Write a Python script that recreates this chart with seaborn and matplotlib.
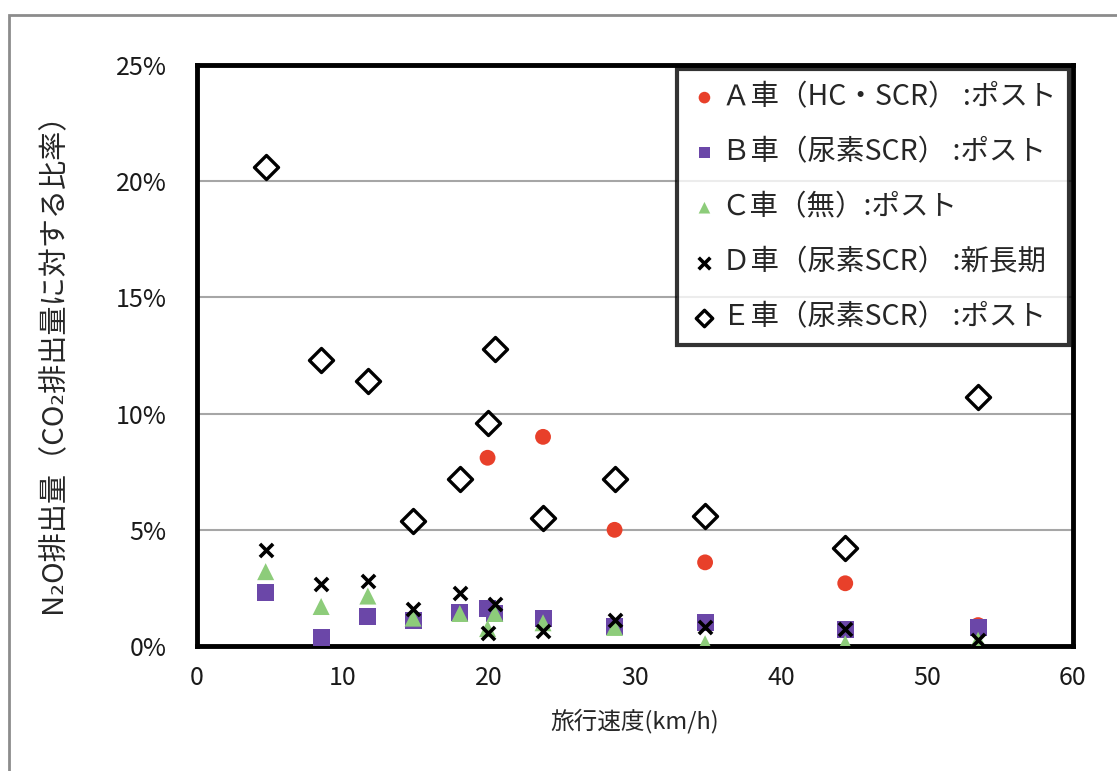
import numpy as np
import pandas as pd
import matplotlib.pyplot as plt
import matplotlib.patches as mpatches
import seaborn as sns

sns.set_style('white')
plt.rcParams['font.family'] = ['Noto Sans CJK JP', 'DejaVu Sans']

# 旅行速度 (km/h) と N2O/CO2 比率 (%)
speed_a = [19.9, 23.7, 28.6, 34.8, 44.4, 53.5]
ratio_a = [8.1, 9.0, 5.0, 3.6, 2.7, 0.9]

speed_b = [4.7, 8.5, 11.7, 14.8, 18.0, 19.9, 20.4, 23.7, 28.6, 34.8, 44.4, 53.5]
ratio_b = [2.3, 0.35, 1.25, 1.1, 1.45, 1.6, 1.4, 1.2, 0.85, 1.0, 0.7, 0.8]

speed_c = [4.7, 8.5, 11.7, 14.8, 18.0, 19.9, 20.4, 23.7, 28.6, 34.8, 44.4, 53.5]
ratio_c = [3.2, 1.7, 2.15, 1.2, 1.4, 0.75, 1.4, 1.0, 0.8, 0.1, 0.1, 0.25]

speed_d = [4.7, 8.5, 11.7, 14.8, 18.0, 19.9, 20.4, 23.7, 28.6, 34.8, 44.4, 53.5]
ratio_d = [4.15, 2.65, 2.8, 1.6, 2.3, 0.55, 1.8, 0.65, 1.1, 0.8, 0.75, 0.25]

speed_e = [4.7, 8.5, 11.7, 14.8, 18.0, 19.9, 20.4, 23.7, 28.6, 34.8, 44.4, 53.5]
ratio_e = [20.6, 12.3, 11.4, 5.4, 7.2, 9.6, 12.8, 5.5, 7.2, 5.6, 4.2, 10.7]

labels = ['Ａ車（HC・SCR） :ポスト',
          'Ｂ車（尿素SCR） :ポスト',
          'Ｃ車（無）:ポスト',
          'Ｄ車（尿素SCR） :新長期',
          'Ｅ車（尿素SCR） :ポスト']

fig = plt.figure(figsize=(11.17, 7.71), dpi=100)
ax = fig.add_axes([0.1764, 0.1621, 0.7842, 0.7536])

# 外枠
fig.patches.append(mpatches.Rectangle((0.008, -0.1), 1.1, 1.08, transform=fig.transFigure,
                                      fill=False, edgecolor='#8c8c8c', linewidth=2))

sns.scatterplot(x=speed_a, y=ratio_a, ax=ax, marker='o', s=130, color='#e8402a',
                edgecolor='none', label=labels[0], zorder=3)
sns.scatterplot(x=speed_b, y=ratio_b, ax=ax, marker='s', s=150, color='#6b47a8',
                edgecolor='none', label=labels[1], zorder=3)
sns.scatterplot(x=speed_c, y=ratio_c, ax=ax, marker='^', s=150, color='#8dcc7a',
                edgecolor='none', label=labels[2], zorder=3)
sns.scatterplot(x=speed_d, y=ratio_d, ax=ax, marker='x', s=90, color='black',
                linewidth=2.6, label=labels[3], zorder=4)
sns.scatterplot(x=speed_e, y=ratio_e, ax=ax, marker='D', s=150, facecolor='white',
                edgecolor='black', linewidth=2.4, label=labels[4], zorder=5)

ax.set_xlim(0, 60)
ax.set_ylim(0, 25)
ax.set_xticks(range(0, 61, 10))
ax.set_yticks(range(0, 26, 5))
ax.set_yticklabels([f'{v}%' for v in range(0, 26, 5)])
ax.yaxis.grid(True, color='#a6a6a6', linewidth=1.5)
ax.set_axisbelow(True)
for sp in ax.spines.values():
    sp.set_color('black')
    sp.set_linewidth(3.5)
ax.tick_params(axis='both', direction='out', length=6, width=1.5, color='#b0b0b0',
               labelsize=18, labelcolor='#1a1a1a')
ax.tick_params(axis='x', pad=8)
ax.tick_params(axis='y', pad=16)

ax.set_xlabel('旅行速度(km/h)', fontsize=17, labelpad=12)
ax.set_ylabel('N₂O排出量（CO₂排出量に対する比率）', fontsize=21, labelpad=34)

leg = ax.legend(loc='upper right', fontsize=20.5, frameon=True, fancybox=False,
                borderaxespad=0.15, labelspacing=0.88, handletextpad=0.1,
                handlelength=1.0, borderpad=0.45)
leg.get_frame().set_edgecolor('black')
leg.get_frame().set_linewidth(3)
for h in leg.legend_handles:
    h.set_sizes([70])

fig.savefig('out.png', dpi=100)
